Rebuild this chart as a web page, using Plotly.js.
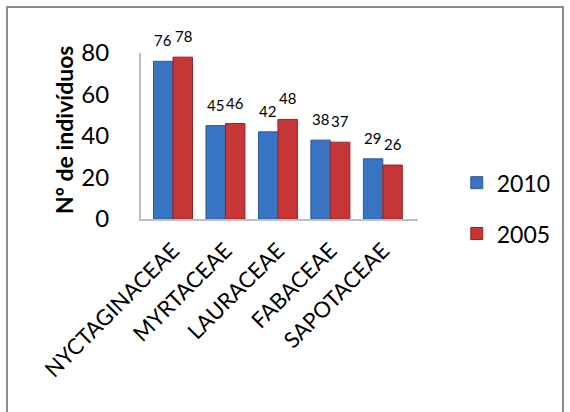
<!DOCTYPE html>
<html>
<head>
<meta charset="utf-8">
<script src="https://cdn.plot.ly/plotly-3.0.1.min.js"></script>
<style>
  html, body { margin: 0; padding: 0; background: #fff; }
  #frame { position: absolute; left: 6px; top: 6px; width: 558px; height: 420px; border: 2px solid #8c8c8c; box-sizing: border-box; }
  #chart { position: absolute; left: 0; top: 0; width: 570px; height: 412px; }
</style>
</head>
<body>
<div id="frame"></div>
<div id="chart"></div>
<script>
const categories = ["NYCTAGINACEAE", "MYRTACEAE", "LAURACEAE", "FABACEAE", "SAPOTACEAE"];
const values2010 = [76, 45, 42, 38, 29];
const values2005 = [78, 46, 48, 37, 26];
const yTicks = [0, 20, 40, 60, 80];
const seriesNames = ["2010", "2005"];
const yTitle = "Nº de indivíduos";

const font = "Lato, 'Open Sans', sans-serif";

const traces = [
  {
    type: "bar", name: seriesNames[0], x: categories, y: values2010,
    marker: { color: "#3874c2", line: { color: "#2b5a98", width: 1 } },
    legendgroup: "a"
  },
  {
    type: "bar", name: seriesNames[1], x: categories, y: values2005,
    marker: { color: "#c63636", line: { color: "#952424", width: 1 } },
    legendgroup: "b"
  }
];

// value labels, placed through the axes from the data arrays
const labelFont = { family: font, size: 15, color: "#000" };
const annotations = [];
categories.forEach((c, i) => {
  annotations.push({ x: c, y: values2010[i], text: String(values2010[i]), showarrow: false,
    xref: "x", yref: "y", xshift: -10, yshift: 21, font: labelFont });
  annotations.push({ x: c, y: values2005[i], text: String(values2005[i]), showarrow: false,
    xref: "x", yref: "y", xshift: 10, yshift: 21, font: labelFont });
});
annotations.push({
  text: yTitle, textangle: -90, showarrow: false,
  xref: "paper", yref: "paper", x: -0.278, y: 0.542,
  xanchor: "center", yanchor: "middle",
  font: { family: font, size: 23, weight: "bold", color: "#000" }
});

const layout = {
  width: 570, height: 412,
  margin: { l: 141, r: 152, t: 53, b: 193 },
  paper_bgcolor: "rgba(0,0,0,0)", plot_bgcolor: "rgba(0,0,0,0)",
  barmode: "group", bargap: 0.257, bargroupgap: 0,
  font: { family: font, color: "#000" },
  showlegend: true,
  legend: {
    x: 1.14, y: 0.065, xanchor: "left", yanchor: "middle",
    font: { family: font, size: 23 },
    traceorder: "grouped", tracegroupgap: 18, itemwidth: 30
  },
  xaxis: {
    type: "category", range: [-0.61, 4.67],
    tickangle: -45, tickfont: { family: font, size: 22 },
    ticklabelstandoff: 8,
    showline: true, linecolor: "#bfbfbf", linewidth: 2,
    ticks: "", showgrid: false, zeroline: false
  },
  yaxis: {
    range: [0, 80], tickvals: yTicks, ticktext: yTicks.map(String),
    tickfont: { family: font, size: 24 },
    ticklabelstandoff: 25,
    showline: true, linecolor: "#bfbfbf", linewidth: 2,
    ticks: "", showgrid: false, zeroline: false
  },
  annotations: annotations
};

Plotly.newPlot("chart", traces, layout, { displayModeBar: false, staticPlot: true });
</script>
</body>
</html>
